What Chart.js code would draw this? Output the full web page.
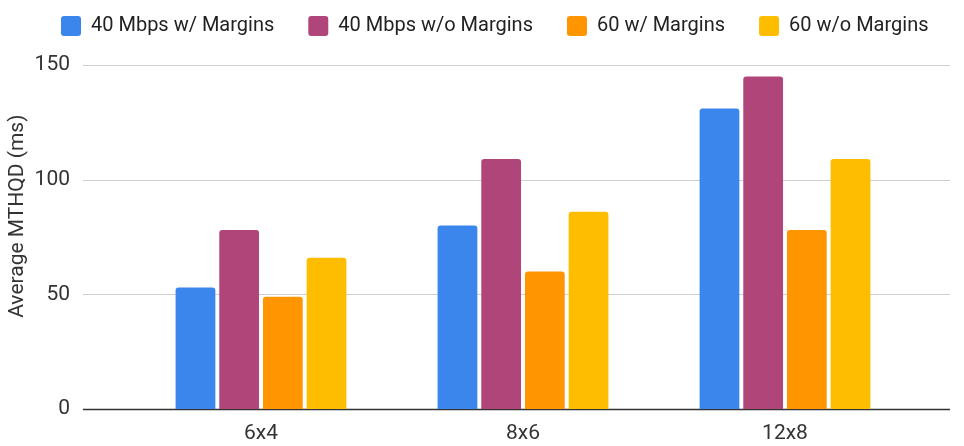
<!DOCTYPE html>
<html lang="en">
<head>
    <meta charset="UTF-8">
    <title>Average MTHQD</title>
    <script src="https://cdn.jsdelivr.net/npm/chart.js"></script>
    <style>
        html, body { margin: 0; padding: 0; background: #fff; }
        #wrap { width: 964px; height: 446px; }
    </style>
</head>
<body>
    <div id="wrap"><canvas id="chart" width="964" height="446"></canvas></div>
    <script>
        // data
        const categories = ['6x4', '8x6', '12x8'];
        const seriesNames = ['40 Mbps w/ Margins', '40 Mbps w/o Margins', '60 w/ Margins', '60 w/o Margins'];
        const mbps40With = [53, 80, 131];
        const mbps40Without = [78, 109, 145];
        const fps60With = [49, 60, 78];
        const fps60Without = [66, 86, 109];
        const yTicks = [0, 50, 100, 150];

        const colors = ['#3b86ec', '#b0457a', '#ff9500', '#ffbd00'];
        const allSeries = [mbps40With, mbps40Without, fps60With, fps60Without];

        // grid lines run wider than the category band, like the original
        const gridPlugin = {
            id: 'wideGrid',
            beforeDatasetsDraw(chart) {
                const ctx = chart.ctx;
                const y = chart.scales.y;
                ctx.save();
                yTicks.forEach(v => {
                    const py = Math.round(y.getPixelForValue(v)) + 0.5;
                    ctx.beginPath();
                    ctx.strokeStyle = v === 0 ? '#333' : '#cfcfcf';
                    ctx.lineWidth = v === 0 ? 1.5 : 1;
                    ctx.moveTo(83, py);
                    ctx.lineTo(950, py);
                    ctx.stroke();
                });
                ctx.restore();
            }
        };

        // legend: fixed height, pushed to the top-left and kept on one row
        const legendPlacer = {
            id: 'legendPlacer',
            afterInit(chart) {
                const lg = chart.legend;
                if (!lg) return;
                const fit = lg.fit;
                lg.fit = function () {
                    fit.call(this);
                    this.height = 65;
                };
            },
            afterLayout(chart) {
                const lg = chart.legend;
                lg.top = -18;
                lg.left = 27;
                lg.right = 1200;
            }
        };

        new Chart(document.getElementById('chart'), {
            type: 'bar',
            data: {
                labels: categories,
                datasets: allSeries.map((d, i) => ({
                    label: seriesNames[i],
                    data: d,
                    backgroundColor: colors[i],
                    borderRadius: { topLeft: 3, topRight: 3 },
                    borderSkipped: 'bottom',
                    categoryPercentage: 0.667,
                    barPercentage: 0.91
                }))
            },
            options: {
                responsive: false,
                animation: false,
                layout: { autoPadding: false, padding: { left: 0, right: 48, top: 0, bottom: 0 } },
                plugins: {
                    tooltip: { enabled: false },
                    legend: {
                        position: 'top',
                        align: 'start',
                        labels: {
                            font: { family: 'Roboto', size: 20 },
                            color: '#222',
                            boxWidth: 20,
                            boxHeight: 20,
                            useBorderRadius: true,
                            borderRadius: 3,
                            padding: 34
                        }
                    }
                },
                scales: {
                    x: {
                        grid: { display: false, drawTicks: false },
                        border: { display: false },
                        ticks: {
                            font: { family: 'Roboto', size: 21 },
                            color: '#333',
                            padding: 12
                        },
                        afterFit(scale) { scale.height = 37; }
                    },
                    y: {
                        min: 0,
                        max: 150,
                        afterBuildTicks(scale) { scale.ticks = yTicks.map(v => ({ value: v })); },
                        grid: { display: false, drawTicks: false },
                        border: { display: false },
                        ticks: {
                            font: { family: 'Roboto', size: 21 },
                            color: '#333',
                            padding: 60
                        },
                        title: {
                            display: true,
                            text: '\u00A0'.repeat(8) + 'Average MTHQD (ms)',
                            font: { family: 'Roboto', size: 21 },
                            color: '#333',
                            padding: { top: 5, bottom: 0 }
                        },
                        afterFit(scale) {
                            scale.width = 130;
                            // the big tick padding must not push the plot area in
                            scale.paddingTop = 0;
                            scale.paddingBottom = 0;
                        }
                    }
                }
            },
            plugins: [gridPlugin, legendPlacer]
        });
    </script>
</body>
</html>
